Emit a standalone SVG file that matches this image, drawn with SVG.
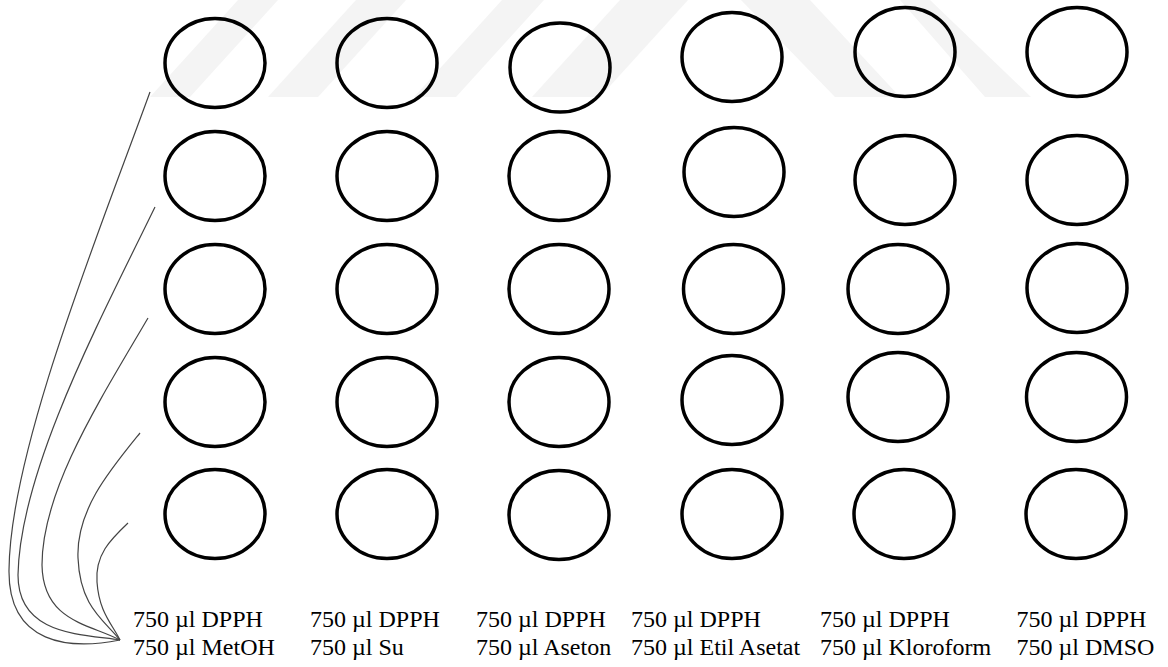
<svg xmlns="http://www.w3.org/2000/svg" width="1168" height="667" viewBox="0 0 1168 667">
<style>
.well{fill:none;stroke:#000;stroke-width:3.5}
.lbl{font-family:"Liberation Serif","Times New Roman",serif;font-size:24px;fill:#000}
.wm{fill:#f4f4f4}
.con{fill:none;stroke:#444;stroke-width:1.2}
</style>
<rect width="1168" height="667" fill="#fff"/>
<g id="watermark">
<polygon class="wm" points="150,97 190,97 278,0 238,0"/>
<polygon class="wm" points="268,97 318,97 406,0 356,0"/>
<polygon class="wm" points="414,97 456,97 544,0 502,0"/>
<polygon class="wm" points="532,97 600,97 688,0 620,0"/>
<polygon class="wm" points="741,0 810,0 900,97 835,97"/>
<polygon class="wm" points="900,0 930,0 1031,97 985,97"/>
</g>
<g id="connectors">
<path class="con" d="M150,92 C100,230 10,450 9,570 C8,645 70,650 120,640"/>
<path class="con" d="M155,207 C100,320 20,470 18,575 C18,635 80,634 120,640"/>
<path class="con" d="M148,318 C100,400 42,490 42,565 C43,622 90,624 120,640"/>
<path class="con" d="M140,433 C110,470 76,510 78,558 C80,607 104,620 120,640"/>
<path class="con" d="M128,523 C110,540 95,555 97,582 C99,612 112,624 120,640"/>
</g>
<g id="wells">
<ellipse id="w11" class="well" cx="215" cy="63" rx="50" ry="44.5"/>
<ellipse id="w12" class="well" cx="387" cy="63" rx="50" ry="44.5"/>
<ellipse id="w13" class="well" cx="560" cy="67.5" rx="50" ry="44.5"/>
<ellipse id="w14" class="well" cx="732" cy="57" rx="50" ry="44.5"/>
<ellipse id="w15" class="well" cx="905" cy="52" rx="50" ry="44.5"/>
<ellipse id="w16" class="well" cx="1077" cy="52" rx="50" ry="44.5"/>
<ellipse id="w21" class="well" cx="215" cy="176" rx="50" ry="44.5"/>
<ellipse id="w22" class="well" cx="387" cy="176" rx="50" ry="44.5"/>
<ellipse id="w23" class="well" cx="559" cy="176" rx="50" ry="44.5"/>
<ellipse id="w24" class="well" cx="734" cy="172" rx="50" ry="44.5"/>
<ellipse id="w25" class="well" cx="905" cy="180" rx="50" ry="44.5"/>
<ellipse id="w26" class="well" cx="1077" cy="180" rx="50" ry="44.5"/>
<ellipse id="w31" class="well" cx="215" cy="289" rx="50" ry="44.5"/>
<ellipse id="w32" class="well" cx="387" cy="289" rx="50" ry="44.5"/>
<ellipse id="w33" class="well" cx="559" cy="289" rx="50" ry="44.5"/>
<ellipse id="w34" class="well" cx="733.5" cy="289" rx="50" ry="44.5"/>
<ellipse id="w35" class="well" cx="898" cy="289" rx="50" ry="44.5"/>
<ellipse id="w36" class="well" cx="1077" cy="288" rx="50" ry="44.5"/>
<ellipse id="w41" class="well" cx="215" cy="402" rx="50" ry="44.5"/>
<ellipse id="w42" class="well" cx="387" cy="402" rx="50" ry="44.5"/>
<ellipse id="w43" class="well" cx="559" cy="402" rx="50" ry="44.5"/>
<ellipse id="w44" class="well" cx="732" cy="400" rx="50" ry="44.5"/>
<ellipse id="w45" class="well" cx="898" cy="397" rx="50" ry="44.5"/>
<ellipse id="w46" class="well" cx="1076.5" cy="397" rx="50" ry="44.5"/>
<ellipse id="w51" class="well" cx="215" cy="514" rx="50" ry="44.5"/>
<ellipse id="w52" class="well" cx="387" cy="514" rx="50" ry="44.5"/>
<ellipse id="w53" class="well" cx="559" cy="515" rx="50" ry="44.5"/>
<ellipse id="w54" class="well" cx="732" cy="514" rx="50" ry="44.5"/>
<ellipse id="w55" class="well" cx="904" cy="514" rx="50" ry="44.5"/>
<ellipse id="w56" class="well" cx="1076" cy="514" rx="50" ry="44.5"/>
</g>
<g id="label-metoh"><text class="lbl" x="133" y="627">750 µl DPPH</text><text class="lbl" x="133" y="655">750 µl MetOH</text></g>
<g id="label-su"><text class="lbl" x="310" y="627">750 µl DPPH</text><text class="lbl" x="310" y="655">750 µl Su</text></g>
<g id="label-aseton"><text class="lbl" x="476" y="627">750 µl DPPH</text><text class="lbl" x="476" y="655">750 µl Aseton</text></g>
<g id="label-etil"><text class="lbl" x="631" y="627">750 µl DPPH</text><text class="lbl" x="631" y="655">750 µl Etil Asetat</text></g>
<g id="label-kloroform"><text class="lbl" x="820" y="627">750 µl DPPH</text><text class="lbl" x="820" y="655">750 µl Kloroform</text></g>
<g id="label-dmso"><text class="lbl" x="1016.5" y="627">750 µl DPPH</text><text class="lbl" x="1016.5" y="655">750 µl DMSO</text></g>
</svg>
